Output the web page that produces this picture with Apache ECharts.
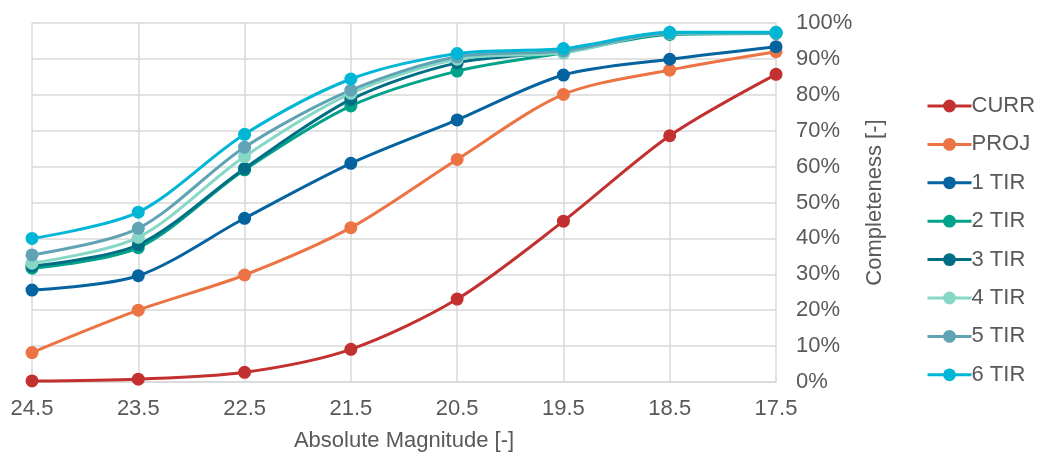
<!DOCTYPE html>
<html>
<head>
<meta charset="utf-8">
<script src="https://cdn.jsdelivr.net/npm/echarts@6/dist/echarts.min.js"></script>
<style>
  html, body { margin: 0; padding: 0; background: #fff; overflow: hidden; }
  #chart { width: 1038px; height: 452px; }
</style>
</head>
<body>
<div id="chart"></div>
<script>
// Absolute magnitude bins (faint to bright)
const magnitudes = ['24.5', '23.5', '22.5', '21.5', '20.5', '19.5', '18.5', '17.5'];

// Completeness fractions per survey configuration
const curr = [0.003, 0.008, 0.027, 0.091, 0.231, 0.448, 0.686, 0.857];
const proj = [0.082, 0.200, 0.298, 0.430, 0.620, 0.801, 0.869, 0.920];
const tir1 = [0.256, 0.296, 0.456, 0.609, 0.730, 0.855, 0.899, 0.934];
const tir2 = [0.317, 0.374, 0.591, 0.769, 0.866, 0.917, 0.968, 0.971];
const tir3 = [0.323, 0.382, 0.595, 0.787, 0.889, 0.920, 0.970, 0.972];
const tir4 = [0.331, 0.403, 0.628, 0.804, 0.899, 0.917, 0.971, 0.972];
const tir5 = [0.354, 0.428, 0.654, 0.813, 0.906, 0.922, 0.972, 0.973];
const tir6 = [0.400, 0.473, 0.690, 0.844, 0.915, 0.929, 0.974, 0.974];

const seriesNames = ['CURR', 'PROJ', '1 TIR', '2 TIR', '3 TIR', '4 TIR', '5 TIR', '6 TIR'];
const seriesValues = [curr, proj, tir1, tir2, tir3, tir4, tir5, tir6];
const seriesColors = ['#C2312F', '#EC7344', '#0563A0', '#00A28A', '#006E85', '#86D7C6', '#60A3B5', '#00B6D6'];

const textColor = '#595959';
const fontFamily = 'Liberation Sans, Arial, sans-serif';
const fontSize = 22;

const chart = echarts.init(document.getElementById('chart'), null, { renderer: 'canvas', width: 1038, height: 452 });

chart.setOption({
  animation: false,
  backgroundColor: '#ffffff',
  textStyle: { fontFamily: fontFamily },
  grid: { left: 32, right: 262, top: 23, bottom: 70, containLabel: false, outerBoundsMode: 'none' },
  legend: {
    orient: 'vertical',
    left: 921,
    top: 90,
    itemWidth: 44,
    itemHeight: 16,
    itemGap: 16.4,
    lineStyle: { width: 3 },
    textStyle: { color: textColor, fontSize: fontSize, fontFamily: fontFamily, padding: [0, 0, 0, -5] },
    data: seriesNames
  },
  xAxis: {
    type: 'category',
    data: magnitudes,
    boundaryGap: false,
    name: 'Absolute Magnitude [-]',
    nameLocation: 'middle',
    nameGap: 48,
    nameTextStyle: { color: textColor, fontSize: fontSize, fontFamily: fontFamily },
    axisLine: { show: true, lineStyle: { color: '#d9d9d9', width: 1.5 } },
    axisTick: { show: false },
    axisLabel: { color: textColor, fontSize: fontSize, margin: 16, fontFamily: fontFamily },
    splitLine: { show: true, lineStyle: { color: '#d9d9d9', width: 1.5 } }
  },
  yAxis: {
    type: 'value',
    position: 'right',
    min: 0,
    max: 1,
    interval: 0.1,
    name: 'Completeness [-]',
    nameLocation: 'middle',
    nameRotate: 90,
    nameGap: 88,
    nameTextStyle: { color: textColor, fontSize: fontSize, fontFamily: fontFamily },
    axisLine: { show: false },
    axisTick: { show: false },
    axisLabel: {
      color: textColor,
      fontSize: fontSize,
      margin: 20,
      fontFamily: fontFamily,
      formatter: v => Math.round(v * 100) + '%'
    },
    splitLine: { show: true, lineStyle: { color: '#d9d9d9', width: 1.5 } }
  },
  series: seriesNames.map((name, i) => ({
    name: name,
    type: 'line',
    data: seriesValues[i],
    smooth: 0.3,
    symbol: 'circle',
    symbolSize: 13,
    color: seriesColors[i],
    lineStyle: { width: 3, color: seriesColors[i] },
    itemStyle: { color: seriesColors[i] },
    emphasis: { disabled: true }
  }))
});
</script>
</body>
</html>
